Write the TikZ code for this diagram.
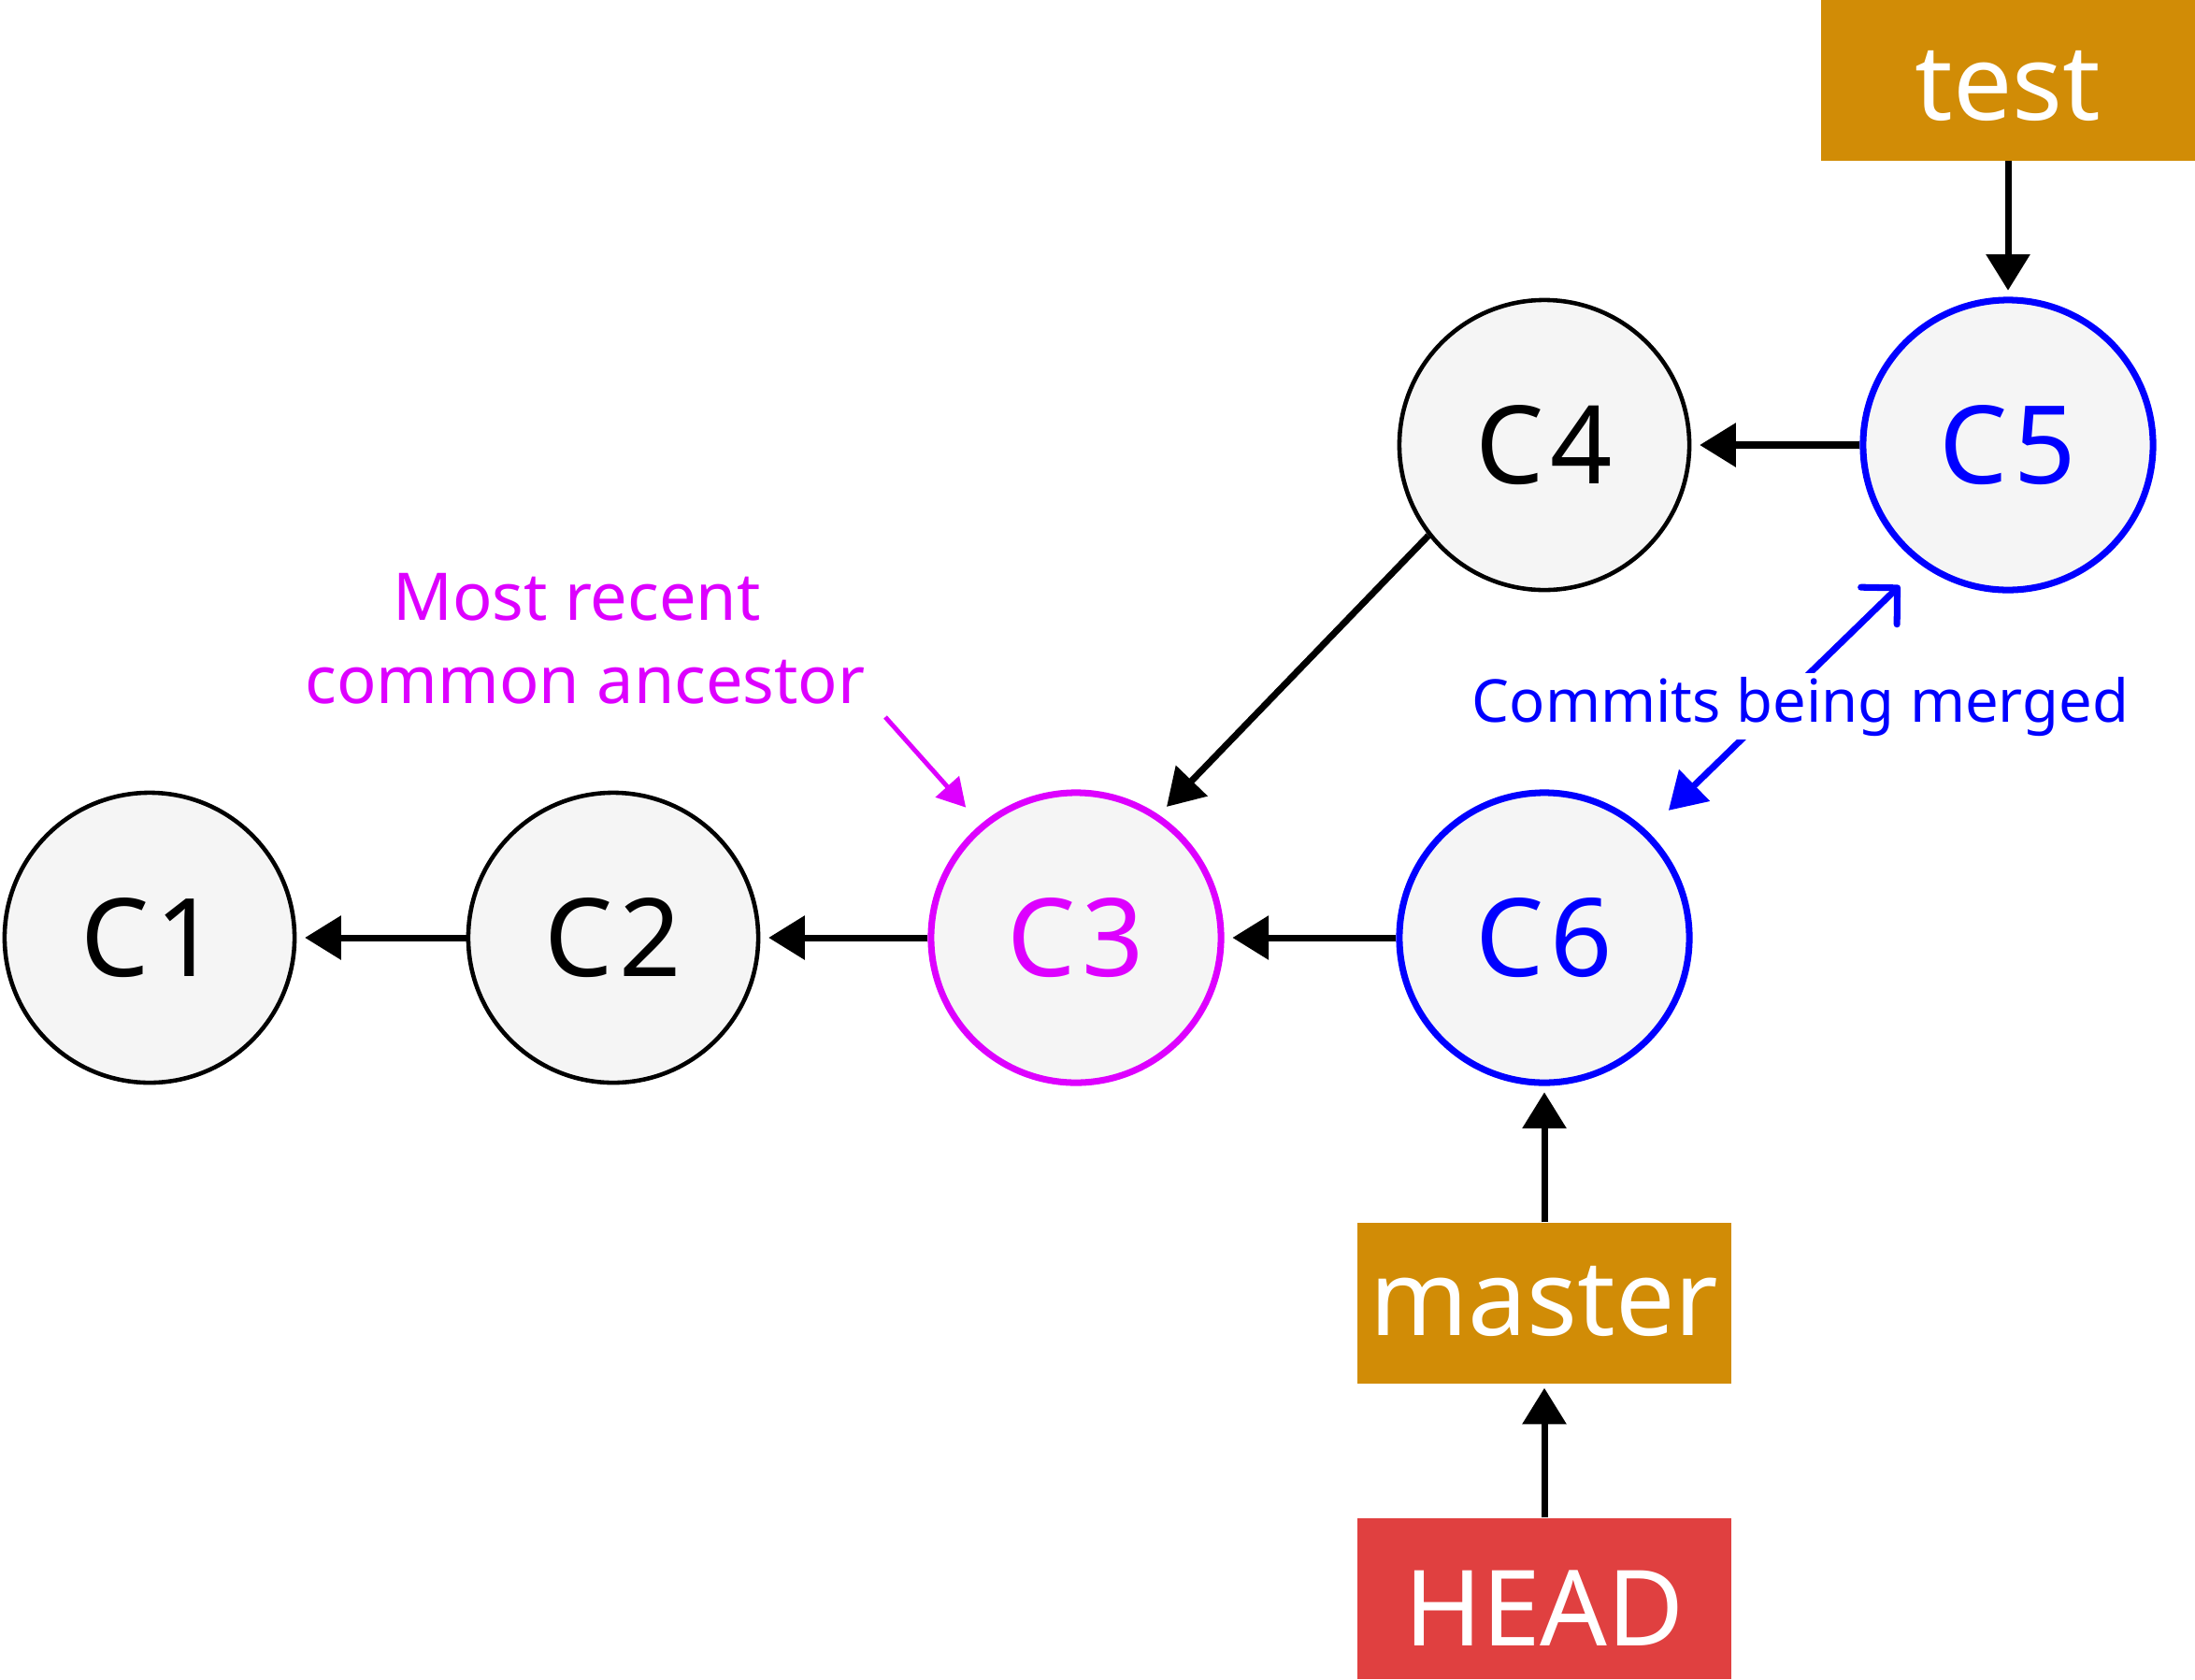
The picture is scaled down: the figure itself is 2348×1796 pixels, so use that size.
\documentclass[tikz,border=0pt]{standalone}
\usepackage{fontspec}
\setmainfont{Noto Sans}
\usetikzlibrary{arrows.meta}
\definecolor{cfill}{HTML}{F5F5F5}
\definecolor{branch}{RGB}{209,140,6}
\definecolor{headred}{RGB}{224,64,64}
\definecolor{mag}{RGB}{221,0,255}
\definecolor{blu}{RGB}{0,0,255}
\begin{document}
\begin{tikzpicture}[x=0.01cm,y=-0.01cm,
  commit/.style={circle, draw=black, line width=1.3pt, fill=cfill,
    minimum size=3.1cm, inner sep=0pt, font=\fontsize{33}{39}\selectfont},
  magcommit/.style={commit, draw=mag, text=mag, line width=2pt},
  blucommit/.style={commit, draw=blu, text=blu, line width=2pt},
  refbox/.style={rectangle, fill=branch, text=white, minimum width=4cm,
    minimum height=1.72cm, inner sep=0pt, font=\fontsize{32}{38}\selectfont, text depth=0pt},
  conn/.style={line width=2pt, -{Triangle[length=11pt,width=13pt]}, shorten >=2.5pt},
  maglabel/.style={text=mag, font=\fontsize{20}{24}\selectfont, anchor=base, inner sep=0pt},
  blulabel/.style={text=blu, font=\fontsize{18}{22}\selectfont, anchor=base, inner sep=1pt, fill=white}
]
\useasboundingbox (0,0) rectangle (2348,1796);

\node[commit] (C1) at (160,1003) {C\kern2pt1};
\node[commit] (C2) at (656,1003) {C\kern2pt2};
\node[magcommit] (C3) at (1151,1003) {C\kern2pt3};
\node[blucommit] (C6) at (1652,1003) {C\kern2pt6};
\node[commit] (C4) at (1652,476) {C\kern2pt4};
\node[blucommit] (C5) at (2148,476) {C\kern2pt5};

\node[refbox, text height=24.5pt] (test) at (2148,85.5) {test};
\node[refbox, text height=19.4pt] (master) at (1652,1394) {master};
\node[refbox, fill=headred, text height=28.5pt] (HEAD) at (1652,1710) {HEAD};

\draw[conn] (C2.west) -- (C1.east);
\draw[conn] (C3.west) -- (C2.east);
\draw[conn] (C6.west) -- (C3.east);
\draw[conn] (C5.west) -- (C4.east);
\draw[conn, shorten >=3.4pt] (C4.218.8) -- (C3.56.3);
\draw[conn, shorten >=1.9pt] (test.south) -- (C5.north);
\draw[conn, shorten >=1.9pt] (master.north) -- (C6.south);
\draw[conn, shorten >=1.1pt] (HEAD.north) -- (master.south);

% magenta annotation
\node[maglabel] (mr1) at (617,663) {Most recent};
\node[maglabel] (mr2) at (626,752) {common ancestor};
\coordinate (ma) at (947,767);
\draw[mag, line width=1.4pt, -{Triangle[length=8.5pt,width=9.4pt]}, shorten >=6.8pt] (ma) -- (C3.130.6);

% blue annotation
\draw[blu, line width=2pt, {Triangle[length=11pt,width=13pt]}-{Straight Barb[length=7.8pt,width=15.7pt,round]},
  shorten <=9pt, shorten >=9pt] (C6.46.7) -- (C5.234);
\node[blulabel] (cbm) at (1926,772) {Commits being merged};
\end{tikzpicture}
\end{document}
